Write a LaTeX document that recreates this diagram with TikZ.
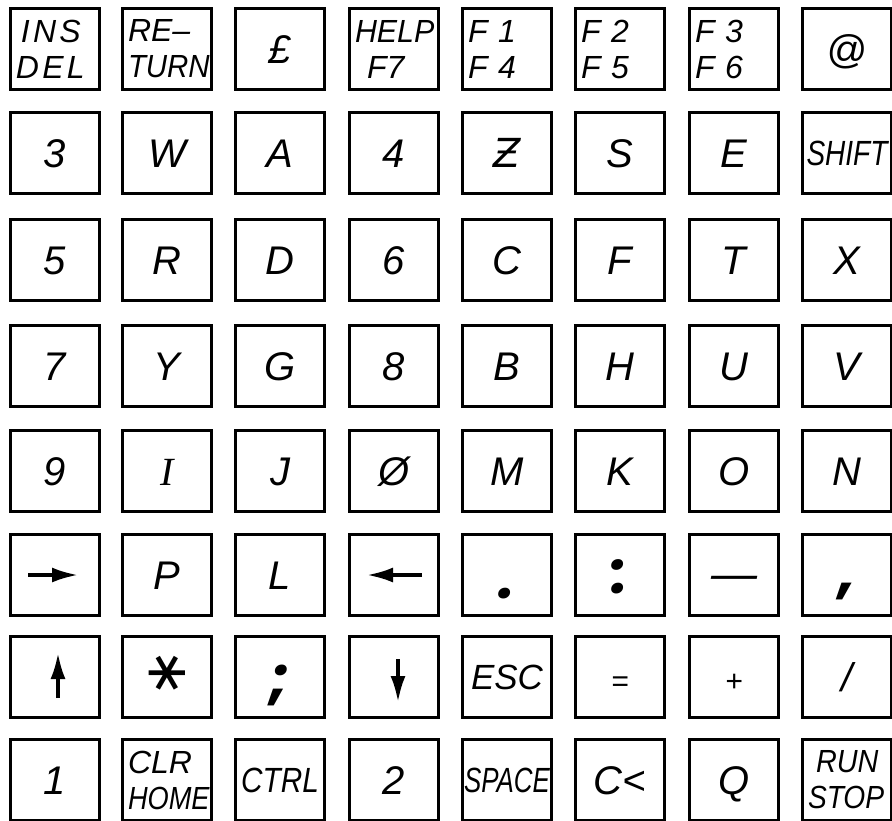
\documentclass[tikz,border=0pt]{standalone}
\usepackage{fontspec}
\usepackage{graphicx}
\setmainfont{Liberation Sans}
\newfontfamily\symfont{DejaVu Sans}
\newfontfamily\dotfont{Poppins}
\newfontfamily\seriffont{Liberation Serif}
\usetikzlibrary{arrows.meta}
\newcommand{\keyfont}{\itshape\fontsize{40}{42}\selectfont}
\newcommand{\twofont}{\itshape\fontsize{32}{36}\selectfont}
\newcommand{\squeeze}[2]{\scalebox{#1}[1]{#2}}
\tikzset{
  keyframe/.style={draw, line width=3pt, minimum width=89pt, minimum height=81pt, inner sep=0pt},
  keybox/.style={keyframe, font=\keyfont, text height=28pt, text depth=0pt},
  twokey/.style={keyframe, font=\twofont, align=left, text width=78pt},
  widekey/.style={keyframe, font=\itshape\fontsize{35}{37}\selectfont, text height=25pt, text depth=0pt},
  smallsign/.style={keyframe, font=\itshape\fontsize{30}{32}\selectfont, text height=28pt, text depth=0pt},
  punctkey/.style={keyframe, font=\dotfont\bfseries\itshape\fontsize{58}{60}\selectfont, text depth=0pt},
  keyarrow/.style={-{Latex[length=26pt,width=15pt]}, line width=3.4pt}
}

\begin{document}
\begin{tikzpicture}[x=1pt, y=-1pt]
  \useasboundingbox (0,0) rectangle (892,820);
  \node[twokey] (ins) at (55,49) {\addfontfeature{LetterSpace=10}\hspace{5pt}INS\\DEL};
  \node[twokey] (ret) at (167,49) {RE--\\\squeeze{0.92}{TURN}};
  \node[keybox] (pound) at (280,49) {£};
  \node[twokey] (help) at (394,49) {\squeeze{0.95}{HELP}\\\hspace{12pt}F7};
  \node[twokey] (fone) at (507,49) {F 1\\F 4};
  \node[twokey] (ftwo) at (620,49) {F 2\\F 5};
  \node[twokey] (fthree) at (734,49) {F 3\\F 6};
  \node[keybox] (at) at (847,49) {@};

  \node[keybox] (n3) at (55,153) {3};
  \node[keybox] (w) at (167,153) {W};
  \node[keybox] (a) at (280,153) {A};
  \node[keybox] (n4) at (394,153) {4};
  \node[keybox] (z) at (507,153) {{\symfont Ƶ}};
  \node[keybox] (s) at (620,153) {S};
  \node[keybox] (e) at (734,153) {E};
  \node[widekey] (shift) at (847,153) {\squeeze{0.8}{SHIFT}};

  \node[keybox] (n5) at (55,260) {5};
  \node[keybox] (r) at (167,260) {R};
  \node[keybox] (d) at (280,260) {D};
  \node[keybox] (n6) at (394,260) {6};
  \node[keybox] (c) at (507,260) {C};
  \node[keybox] (f) at (620,260) {F};
  \node[keybox] (t) at (734,260) {T};
  \node[keybox] (x) at (847,260) {X};

  \node[keybox] (n7) at (55,366) {7};
  \node[keybox] (y) at (167,366) {Y};
  \node[keybox] (g) at (280,366) {G};
  \node[keybox] (n8) at (394,366) {8};
  \node[keybox] (b) at (507,366) {B};
  \node[keybox] (h) at (620,366) {H};
  \node[keybox] (u) at (734,366) {U};
  \node[keybox] (v) at (847,366) {V};

  \node[keybox] (n9) at (55,471) {9};
  \node[keybox] (i) at (167,471) {{\seriffont I}};
  \node[keybox] (j) at (280,471) {J};
  \node[keybox] (n0) at (394,471) {Ø};
  \node[keybox] (m) at (507,471) {M};
  \node[keybox] (k) at (620,471) {K};
  \node[keybox] (o) at (734,471) {O};
  \node[keybox] (n) at (847,471) {N};

  \node[keybox] (right) at (55,575) {};
  \node[keybox] (p) at (167,575) {P};
  \node[keybox] (l) at (280,575) {L};
  \node[keybox] (left) at (394,575) {};
  \node[punctkey, text height=46pt] (dot) at (507,575) {.};
  \node[punctkey, text height=36pt] (colon) at (620,575) {:};
  \node[keybox, font=\itshape\fontsize{46}{48}\selectfont] (minus) at (734,575) {—};
  \node[punctkey, text height=34pt] (comma) at (847,575) {,};

  \node[keybox] (up) at (55,677) {};
  \node[keybox] (star) at (167,677) {\rotatebox[origin=c]{90}{\symfont\fontsize{58}{58}\selectfont ∗}};
  \node[punctkey, text height=42pt] (semi) at (280,677) {;};
  \node[keybox] (down) at (394,677) {};
  \node[widekey] (esc) at (507,677) {ESC};
  \node[smallsign] (equal) at (620,677) {=};
  \node[smallsign] (plus) at (734,677) {+};
  \node[keybox] (slash) at (847,677) {/};

  \node[keybox] (n1) at (55,780) {1};
  \node[twokey] (clr) at (167,780) {CLR\\\squeeze{0.85}{HOME}};
  \node[widekey] (ctrl) at (280,780) {\squeeze{0.85}{CTRL}};
  \node[keybox] (n2) at (394,780) {2};
  \node[widekey] (space) at (507,780) {\squeeze{0.74}{SPACE}};
  \node[keybox] (cless) at (620,780) {C<};
  \node[keybox] (q) at (734,780) {Q};
  \node[twokey] (run) at (847,780) {\hspace{8pt}\squeeze{0.9}{RUN}\\\squeeze{0.88}{STOP}};

  \draw[keyarrow] ([xshift=-27pt]right.center) -- ([xshift=23pt]right.center);
  \draw[keyarrow] ([xshift=28pt]left.center) -- ([xshift=-27pt]left.center);
  \draw[keyarrow] ([xshift=3pt,yshift=-21pt]up.center) -- ([xshift=3pt,yshift=24pt]up.center);
  \draw[keyarrow] ([xshift=4pt,yshift=18pt]down.center) -- ([xshift=4pt,yshift=-25pt]down.center);
\end{tikzpicture}
\end{document}
